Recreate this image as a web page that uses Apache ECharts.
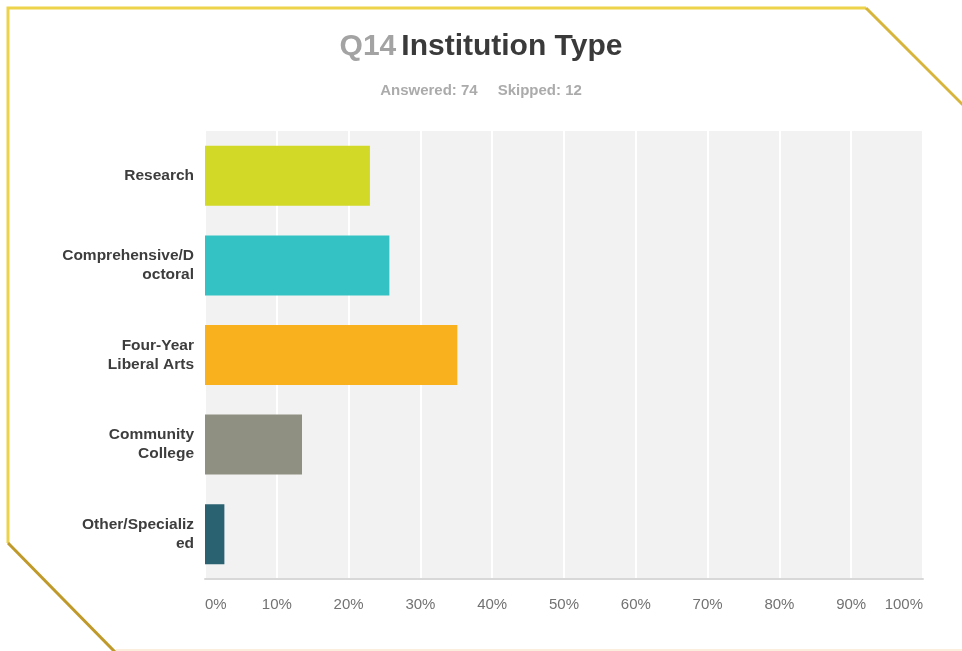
<!DOCTYPE html>
<html>
<head>
<meta charset="utf-8">
<title>Q14 Institution Type</title>
<script src="https://cdn.jsdelivr.net/npm/echarts@6/dist/echarts.min.js"></script>
<style>
  html, body { margin: 0; padding: 0; background: #ffffff; }
  #chart { width: 962px; height: 651px; }
</style>
</head>
<body>
<div id="chart"></div>
<script>
// Survey question and response counts
const questionNo = 'Q14';
const questionTitle = 'Institution Type';
const answered = 74;
const skipped = 12;

// Answer choices (top to bottom) and their wrapped axis labels
const categories = ['Research', 'Comprehensive/Doctoral', 'Four-Year Liberal Arts', 'Community College', 'Other/Specialized'];
const categoryLabels = ['Research', 'Comprehensive/D\noctoral', 'Four-Year\nLiberal Arts', 'Community\nCollege', 'Other/Specializ\ned'];

// Share of respondents for each choice, in percent
const percentValues = [22.97, 25.68, 35.14, 13.51, 2.70];

// Bar colour per choice
const barColors = ['#d2d926', '#34c2c4', '#f9b11e', '#8f9081', '#2a6272'];

// Value axis ticks
const tickValues = [0, 10, 20, 30, 40, 50, 60, 70, 80, 90, 100];

const FONT = '"Liberation Sans", Arial, Helvetica, sans-serif';

const labelLookup = {};
categories.forEach((c, i) => { labelLookup[c] = categoryLabels[i]; });

const chart = echarts.init(document.getElementById('chart'), null, { renderer: 'canvas' });

const option = {
  animation: false,
  backgroundColor: '#ffffff',
  title: [
    {
      text: '{q|' + questionNo + '} {t|' + questionTitle + '}',
      left: 'center',
      top: 32,
      padding: 0,
      textStyle: {
        rich: {
          q: { fontFamily: FONT, fontSize: 30, fontWeight: 'bold', color: '#a3a3a3' },
          t: { fontFamily: FONT, fontSize: 30, fontWeight: 'bold', color: '#3a3a3a' }
        }
      }
    },
    {
      text: '{a|Answered: ' + answered + '}{s|Skipped: ' + skipped + '}',
      left: 'center',
      top: 83,
      padding: 0,
      textStyle: {
        rich: {
          a: { fontFamily: FONT, fontSize: 15, fontWeight: 'bold', color: '#ababab' },
          s: { fontFamily: FONT, fontSize: 15, fontWeight: 'bold', color: '#ababab', padding: [0, 0, 0, 20] }
        }
      }
    }
  ],
  grid: {
    left: 205,
    right: 39,
    top: 131,
    bottom: 72,
    show: true,
    backgroundColor: '#f2f2f2',
    borderWidth: 0,
    containLabel: false
  },
  xAxis: {
    type: 'value',
    min: tickValues[0],
    max: tickValues[tickValues.length - 1],
    interval: 10,
    axisLine: { show: true, lineStyle: { color: '#d8d8d8', width: 2 } },
    axisTick: { show: false },
    splitLine: { show: true, lineStyle: { color: '#ffffff', width: 2 } },
    axisLabel: {
      margin: 18,
      fontFamily: FONT,
      fontSize: 15,
      color: '#727272',
      alignMinLabel: 'left',
      alignMaxLabel: 'right',
      formatter: v => v + '%'
    }
  },
  yAxis: {
    type: 'category',
    data: categories,
    inverse: true,
    axisLine: { show: false },
    axisTick: { show: false },
    splitLine: { show: false },
    axisLabel: {
      margin: 11,
      fontFamily: FONT,
      fontSize: 15.5,
      fontWeight: 'bold',
      color: '#3d3d3d',
      lineHeight: 19,
      align: 'right',
      formatter: v => labelLookup[v]
    }
  },
  series: [{
    type: 'bar',
    data: percentValues.map((v, i) => ({ value: v, itemStyle: { color: barColors[i] } })),
    barWidth: 60,
    silent: true
  }],
  graphic: [
    // Decorative gold frame
    {
      type: 'polyline',
      shape: { points: [[8, 543], [8, 8], [866, 8]] },
      style: { stroke: '#ecd34b', lineWidth: 3, fill: null },
      z: 10
    },
    {
      type: 'polyline',
      shape: { points: [[866, 8], [964, 106]] },
      style: { stroke: '#d7b53a', lineWidth: 3, fill: null },
      z: 10
    },
    {
      type: 'polyline',
      shape: { points: [[8, 543], [116, 653]] },
      style: { stroke: '#bf9a2a', lineWidth: 3, fill: null },
      z: 10
    },
    {
      type: 'polyline',
      shape: { points: [[116, 650], [962, 650]] },
      style: { stroke: '#fbeedd', lineWidth: 2, fill: null },
      z: 10
    }
  ]
};

chart.setOption(option);
</script>
</body>
</html>
